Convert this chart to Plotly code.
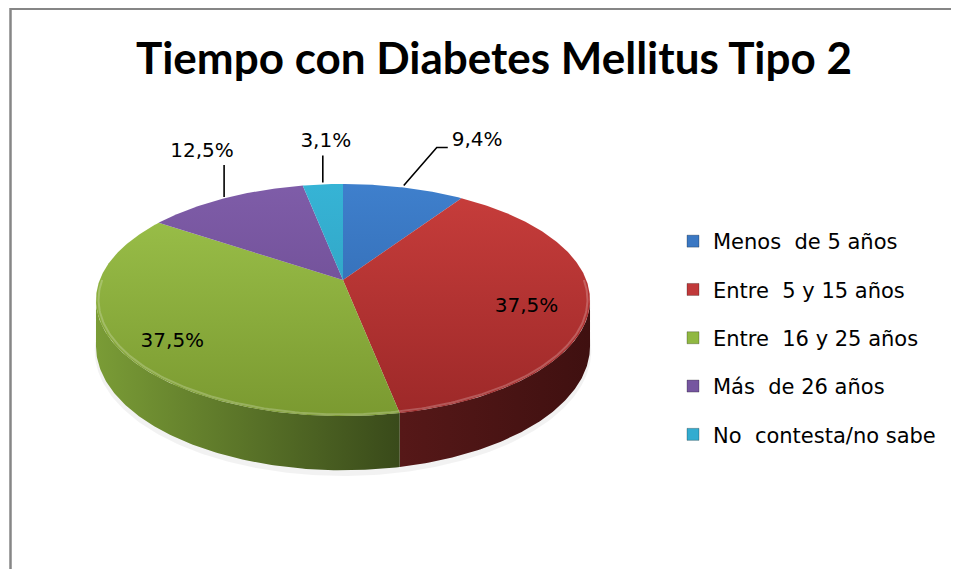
import numpy as np
import plotly.graph_objects as go

# ---------------- data ----------------
CATEGORIES = ["Menos\u00a0 de 5 años", "Entre\u00a0 5 y 15 años", "Entre\u00a0 16 y 25 años",
              "Más\u00a0 de 26 años", "No\u00a0 contesta/no sabe"]
VALUES = [9.4, 37.5, 37.5, 12.5, 3.1]
TITLE = "Tiempo con Diabetes Mellitus Tipo 2"

# ---------------- style ----------------
TOP_COLORS = [("#3f80cd", "#2c60a4"), ("#c93e3c", "#9c2828"), ("#9ec44c", "#7a9930"),
              ("#7f5da9", "#654588"), ("#36b4d6", "#2d97b5")]
WALL_COLORS = [None, ("#561818", "#3f1010"), ("#7a9c36", "#394a1a"), None, None]
LEGEND_COLORS = ["#3b78c3", "#c0393a", "#90b842", "#7656a0", "#33acd0"]
TITLE_FONT = "Lato"
TEXT_FONT = "DejaVu Sans"

PAGE_OFF = 8               # default page margin of the html body
W, H = 959, 577            # screenshot size
CX, CY = 343.0, 280.0      # apex of the pie on screen
SX, SY = 243.3, 112.6      # horizontal / vertical radius scale
K = 0.1728                 # perspective factor
DEPTH = 44.8               # wall thickness scale


def proj(theta, z=0.0, r=1.0):
    t = np.radians(theta)
    X = r * np.sin(t)
    Y = r * np.cos(t)
    d = 1 + K * Y
    return CX + SX * X / d, CY - SY * Y / d + DEPTH * z / d


total = sum(VALUES)
ends = 360.0 * np.cumsum(VALUES) / total
starts = np.concatenate([[0.0], ends[:-1]])
vis_lo = np.degrees(np.arccos(-K))
vis_hi = 360.0 - vis_lo

fig = go.Figure()

# soft shadow
th = np.linspace(0, 360, 361)
sx, sy = proj(th, z=1.07, r=1.005)
fig.add_trace(go.Scatter(x=sx, y=sy + 1, fill="toself", mode="lines", line=dict(width=0),
                         fillcolor="rgba(0,0,0,0.05)", hoverinfo="skip", showlegend=False))

# walls
for i, (a0, a1) in enumerate(zip(starts, ends)):
    lo, hi = max(a0, vis_lo), min(a1, vis_hi)
    if hi <= lo or WALL_COLORS[i] is None:
        continue
    th = np.linspace(lo, hi, 120)
    x_top, y_top = proj(th, 0.0)
    x_bot, y_bot = proj(th[::-1], 1.0)
    xs = np.concatenate([x_top, x_bot])
    ys = np.concatenate([y_top, y_bot])
    c1, c2 = WALL_COLORS[i]
    fig.add_trace(go.Scatter(
        x=xs, y=ys, fill="toself", mode="lines", line=dict(width=0),
        fillgradient=dict(type="horizontal", colorscale=[[0, c1], [1, c2]],
                          start=float(xs.min()), stop=float(xs.max())),
        hoverinfo="skip", showlegend=False))

# top faces
for i, (a0, a1) in enumerate(zip(starts, ends)):
    th = np.linspace(a0, a1, max(8, int((a1 - a0) * 2)))
    xr, yr = proj(th, 0.0)
    xs = np.concatenate([[CX], xr, [CX]])
    ys = np.concatenate([[CY], yr, [CY]])
    c1, c2 = TOP_COLORS[i]
    fig.add_trace(go.Scatter(
        x=xs, y=ys, fill="toself", mode="lines", line=dict(width=0),
        fillgradient=dict(type="vertical", colorscale=[[0, c1], [1, c2]],
                          start=180.0, stop=420.0),
        hoverinfo="skip", showlegend=False))

# subtle bevel highlight on the front rim
th = np.linspace(vis_lo - 10, vis_hi + 10, 200)
hx, hy = proj(th, 0.0, r=0.99)
fig.add_trace(go.Scatter(x=hx, y=hy, mode="lines", line=dict(color="rgba(255,255,255,0.22)", width=2),
                         hoverinfo="skip", showlegend=False))

# data labels: offsets of label from anchor, leader polyline offsets
LABEL_LAYOUT = [
    dict(dx=48, dy=-47, lead=[(0, -2), (33, -40), (44, -40)], anchor="left"),
    dict(dx=0, dy=10),
    dict(dx=-7, dy=12),
    dict(dx=-23, dy=-46, lead=[(-1, -1), (-1, -33)], anchor="center"),
    dict(dx=3, dy=-42, lead=[(0, -2), (0, -29)], anchor="center"),
]
lab_x, lab_y, lab_t, lab_pos = [], [], [], []
lead_x, lead_y = [], []
for i, (a0, a1) in enumerate(zip(starts, ends)):
    mid = (a0 + a1) / 2
    txt = f"{VALUES[i]:.1f}".replace(".", ",") + "%"
    L = LABEL_LAYOUT[i]
    if VALUES[i] >= 20:
        ax, ay = proj(mid, 0.0, r=0.75)
    else:
        ax, ay = proj(mid, 0.0, r=1.0)
        for (ox, oy) in L["lead"]:
            lead_x.append(ax + ox)
            lead_y.append(ay + oy)
        lead_x.append(None)
        lead_y.append(None)
    lab_x.append(ax + L["dx"])
    lab_y.append(ay + L["dy"])
    lab_t.append(txt)
    lab_pos.append("middle right" if L.get("anchor") == "left" else "middle center")

fig.add_trace(go.Scatter(x=lead_x, y=lead_y, mode="lines", line=dict(color="black", width=1.6),
                         hoverinfo="skip", showlegend=False))
fig.add_trace(go.Scatter(x=lab_x, y=lab_y, mode="text", text=lab_t, textposition=lab_pos,
                         textfont=dict(family=TEXT_FONT, size=20, color="#000000"),
                         hoverinfo="skip", showlegend=False))

# legend entries
for i, cat in enumerate(CATEGORIES):
    fig.add_trace(go.Scatter(x=[None], y=[None], mode="markers", name=cat,
                             legendgroup=f"g{i}",
                             marker=dict(symbol="square", size=12, color=LEGEND_COLORS[i],
                                         line=dict(color="rgba(0,0,0,0.25)", width=1))))

# figure sized so that page margins + figure fit the window exactly
FW, FH = W - 2 * PAGE_OFF, H - 2 * PAGE_OFF
X_END, Y_END = PAGE_OFF + FW, PAGE_OFF + FH
fig.update_layout(
    width=FW, height=FH,
    margin=dict(l=0, r=0, t=0, b=0),
    paper_bgcolor="white", plot_bgcolor="white",
    xaxis=dict(range=[PAGE_OFF, X_END], visible=False, fixedrange=True),
    yaxis=dict(range=[Y_END, PAGE_OFF], visible=False, fixedrange=True),
    title=dict(text=TITLE, x=(494 - PAGE_OFF) / FW, xanchor="center",
               y=1 - (59 - PAGE_OFF) / FH, yanchor="middle",
               font=dict(family=TITLE_FONT, size=44, color="#000000", weight="bold")),
    legend=dict(x=(673 - PAGE_OFF) / FW, xanchor="left", y=1 - (221 - PAGE_OFF) / FH, yanchor="top",
                font=dict(family=TEXT_FONT, size=21, color="#000000"),
                tracegroupgap=18, bgcolor="rgba(0,0,0,0)"),
    showlegend=True,
    shapes=[
        dict(type="line", xref="x", yref="y", x0=10, x1=X_END, y0=8.8, y1=8.8,
             line=dict(color="#868686", width=2.2)),
        dict(type="line", xref="x", yref="y", x0=10.5, x1=10.5, y0=8, y1=Y_END,
             line=dict(color="#868686", width=2.5)),
    ],
)

fig.write_html("out.html", config={"displayModeBar": False})
